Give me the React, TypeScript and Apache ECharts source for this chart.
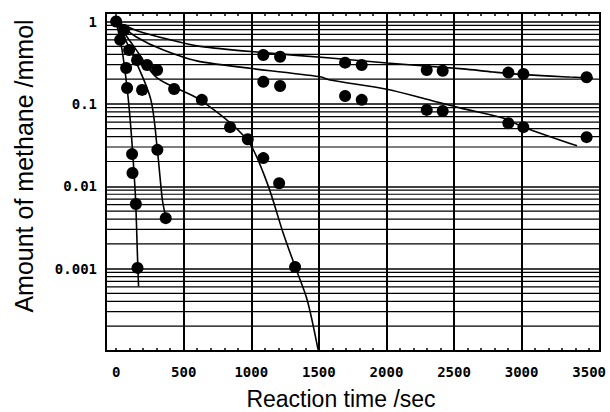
import React, { useEffect, useRef } from "react";
import * as echarts from "echarts";

// ---- data ----
const xMin = -75;
const xMax = 3580;
const xTickLabels = [0, 500, 1000, 1500, 2000, 2500, 3000, 3500];
const xMinorTicks = [0, 100, 200, 300, 400, 500, 600, 700, 800, 900, 1000, 1100, 1200, 1300, 1400, 1500, 1600, 1700, 1800, 1900, 2000, 2100, 2200, 2300, 2400, 2500, 2600, 2700, 2800, 2900, 3000, 3100, 3200, 3300, 3400, 3500];
const xGridLines = [500, 1000, 1500, 2000, 2500, 3000];
const yMinorGrid = [
  0.0002, 0.0003, 0.0004, 0.0005, 0.0006, 0.0007, 0.0008, 0.0009,
  0.002, 0.003, 0.004, 0.005, 0.006, 0.007, 0.008, 0.009,
  0.02, 0.03, 0.04, 0.05, 0.06, 0.07, 0.08, 0.09,
  0.2, 0.3, 0.4, 0.5, 0.6, 0.7, 0.8, 0.9,
];

// measured points (time /sec, amount /mmol)
const s1Time = [0, 1089, 1213, 1694, 1817, 2298, 2416, 2902, 3013, 3481];
const s1Val = [1, 0.393, 0.374, 0.317, 0.297, 0.258, 0.253, 0.24, 0.231, 0.211];
const s2Time = [59, 1089, 1213, 1694, 1817, 2298, 2416, 2902, 3013, 3481];
const s2Val = [0.79, 0.186, 0.165, 0.125, 0.112, 0.0846, 0.0822, 0.0584, 0.0522, 0.0395];
const s3Time = [96, 229, 303, 429, 634, 843, 974, 1089, 1206, 1324];
const s3Val = [0.45, 0.297, 0.258, 0.152, 0.112, 0.0522, 0.0373, 0.022, 0.0109, 0.00105];
const s4Time = [30, 74, 81, 118, 121, 146, 158];
const s4Val = [0.6, 0.273, 0.156, 0.0246, 0.0145, 0.0061, 0.00102];
const s5Time = [155, 192, 305, 367];
const s5Val = [0.34, 0.148, 0.0277, 0.0041];

// fitted curves
const f1Time = [0, 150, 400, 621, 1089, 1583, 2004, 2567, 2789, 3040, 3358, 3528];
const f1Val = [1, 0.78, 0.6, 0.5, 0.42, 0.361, 0.314, 0.266, 0.244, 0.225, 0.212, 0.207];
const f2Time = [0, 150, 350, 621, 1509, 1583, 2002, 2298, 2544, 2862, 3010, 3410];
const f2Val = [1, 0.65, 0.45, 0.326, 0.214, 0.195, 0.151, 0.114, 0.0895, 0.0676, 0.0526, 0.031];
const f3Time = [0, 150, 303, 621, 969, 1117, 1235, 1324, 1413, 1494];
const f3Val = [1, 0.45, 0.207, 0.112, 0.0366, 0.011, 0.00273, 0.00106, 0.00042, 0.000104];
const f4Time = [0, 44, 81, 104, 126, 144, 158, 166];
const f4Val = [1, 0.45, 0.156, 0.064, 0.021, 0.00686, 0.0014, 0.000605];
const f5Time = [0, 141, 257, 305, 342, 368];
const f5Val = [1, 0.34, 0.112, 0.0277, 0.00686, 0.00417];

const zip = (t: number[], v: number[]) => t.map((x, i) => [x, v[i]]);

export default function App() {
  const ref = useRef<HTMLDivElement>(null);
  useEffect(() => {
    const chart = echarts.init(ref.current!, null, { renderer: "svg" });
    const tickFont = { fontFamily: "DejaVu Sans Mono", fontWeight: "bold" as const, fontSize: 14, color: "#000" };
    const scatter = (t: number[], v: number[]) => ({
      type: "scatter",
      data: zip(t, v),
      symbol: "circle",
      symbolSize: 12,
      itemStyle: { color: "#000", opacity: 1 },
      z: 5,
    });
    const line = (t: number[], v: number[]) => ({
      type: "line",
      data: zip(t, v),
      showSymbol: false,
      smooth: 0.3,
      lineStyle: { color: "#000", width: 1.6 },
      z: 4,
    });
    const hGrid = yMinorGrid.map((v) => ({
      type: "line",
      data: [[xMin, v], [xMax, v]],
      showSymbol: false,
      silent: true,
      lineStyle: { color: "#000", width: 1.2 },
      z: 1,
    }));
    chart.setOption({
      animation: false,
      backgroundColor: "#fff",
      grid: { left: 106, top: 13, right: 10, bottom: 61, show: true, borderColor: "#000", borderWidth: 2, backgroundColor: "transparent" },
      xAxis: [
        {
          type: "value",
          min: xMin,
          max: xMax,
          axisLine: { show: false },
          splitLine: { show: false },
          axisTick: { show: true, inside: true, length: 3, customValues: xMinorTicks, lineStyle: { color: "#000", width: 1.5 } },
          axisLabel: { customValues: xTickLabels, margin: 14, formatter: (v: number) => String(Math.round(v)), ...tickFont },
        },
        {
          type: "value",
          position: "top",
          min: xMin,
          max: xMax,
          axisLine: { show: false },
          splitLine: { show: false },
          axisTick: { show: true, inside: true, length: 3, customValues: xMinorTicks, lineStyle: { color: "#000", width: 1.5 } },
          axisLabel: { show: false },
        },
      ],
      yAxis: {
        type: "log",
        logBase: 10,
        min: 0.0001,
        max: 1.27,
        axisLine: { show: false },
        axisTick: { show: false },
        splitLine: { show: true, lineStyle: { color: "#000", width: 1.5 } },
        axisLabel: {
          margin: 9,
          ...tickFont,
          formatter: (v: number) => {
            const l = Math.log10(v);
            const r = Math.round(l);
            if (Math.abs(l - r) > 1e-6 || r < -3) return "";
            return r === 0 ? "1" : Math.pow(10, r).toFixed(-r);
          },
        },
      },
      graphic: [
        {
          type: "text",
          x: 24,
          y: 166,
          rotation: Math.PI / 2,
          style: { text: "Amount of methane /mmol", font: "25px 'Liberation Sans'", fill: "#000", textAlign: "center", textVerticalAlign: "middle" },
        },
        {
          type: "text",
          x: 341,
          y: 399,
          style: { text: "Reaction time /sec", font: "23px 'Liberation Sans'", fill: "#000", textAlign: "center", textVerticalAlign: "middle" },
        },
      ],
      series: [
        ...hGrid,
        {
          type: "line",
          data: [],
          silent: true,
          markLine: {
            silent: true,
            symbol: ["none", "none"],
            label: { show: false },
            lineStyle: { color: "#000", width: 2, type: "solid" },
            data: xGridLines.map((v) => ({ xAxis: v })),
          },
          z: 2,
        },
        line(f1Time, f1Val),
        line(f2Time, f2Val),
        line(f3Time, f3Val),
        line(f4Time, f4Val),
        line(f5Time, f5Val),
        scatter(s1Time, s1Val),
        scatter(s2Time, s2Val),
        scatter(s3Time, s3Val),
        scatter(s4Time, s4Val),
        scatter(s5Time, s5Val),
      ],
    });
    return () => chart.dispose();
  }, []);
  return <div ref={ref} style={{ position: "fixed", left: 0, top: 0, width: 610, height: 412, background: "#fff" }} />;
}
